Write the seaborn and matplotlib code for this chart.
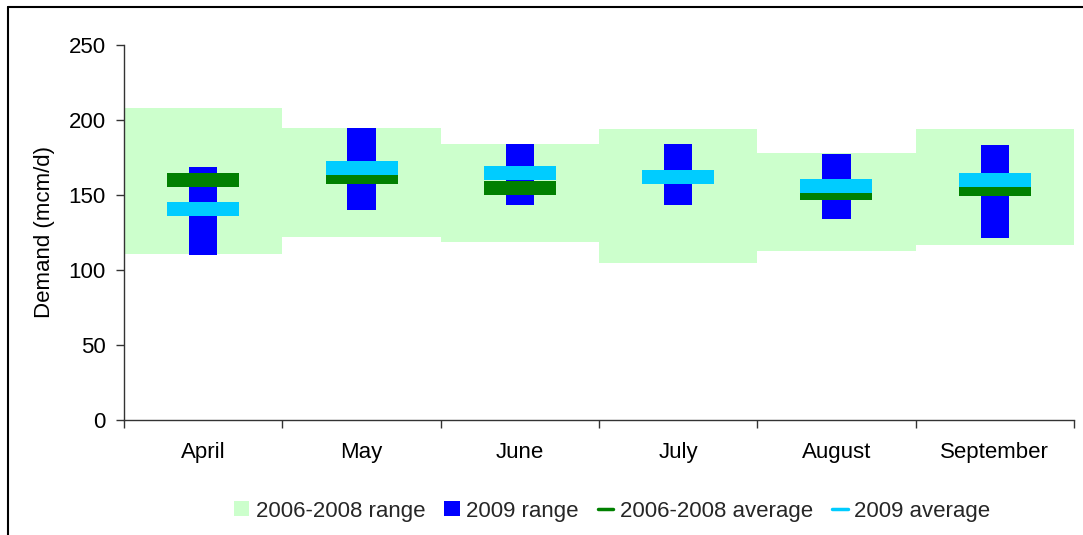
import numpy as np
import pandas as pd
import matplotlib
matplotlib.use("Agg")
import matplotlib.pyplot as plt
from matplotlib.patches import Patch
from matplotlib.lines import Line2D
from matplotlib.path import Path
import seaborn as sns

# Monthly gas demand (mcm/d)
months = ["April", "May", "June", "July", "August", "September"]
range_0608_low = [110.7, 122.2, 118.9, 104.9, 112.9, 116.7]
range_0608_high = [208.0, 194.7, 184.2, 194.0, 178.2, 194.0]
range_2009_low = [110.0, 140.0, 143.5, 143.5, 134.2, 121.6]
range_2009_high = [168.7, 194.7, 184.2, 184.2, 177.3, 183.3]
avg_0608 = [159.9, 162.2, 154.9, 162.3, 151.6, 153.8]
avg_2009 = [141.0, 168.0, 164.4, 162.3, 156.1, 159.9]

y_ticks = [0, 50, 100, 150, 200, 250]
legend_labels = ["2006-2008 range", "2009 range", "2006-2008 average", "2009 average"]

c_light = "#CCFFCC"
c_blue = "#0000FF"
c_green = "#008000"
c_cyan = "#00CCFF"
fs = 16

sns.set_theme(style="white")
plt.rcParams["font.family"] = ["Liberation Sans", "DejaVu Sans"]

df = pd.DataFrame({
    "month": months,
    "lo0608": range_0608_low,
    "span0608": np.array(range_0608_high) - np.array(range_0608_low),
    "lo2009": range_2009_low,
    "span2009": np.array(range_2009_high) - np.array(range_2009_low),
    "avg0608": avg_0608,
    "avg2009": avg_2009,
})
df["pos"] = np.arange(len(months))

fig = plt.figure(figsize=(10.83, 5.35), dpi=100)
ax = fig.add_axes([124 / 1083, 115 / 535, 950 / 1083, 375 / 535])

# Floating range bars
sns.barplot(data=df, x="month", y="span0608", bottom=df["lo0608"].values,
            order=months, color=c_light, saturation=1, width=1.0,
            errorbar=None, linewidth=0, ax=ax)
sns.barplot(data=df, x="month", y="span2009", bottom=df["lo2009"].values,
            order=months, color=c_blue, saturation=1, width=0.18,
            errorbar=None, linewidth=0, ax=ax)

# Average markers: flat rectangles
h = 14 / 73
rect = Path([(-1, -h), (1, -h), (1, h), (-1, h), (-1, -h)],
            [Path.MOVETO, Path.LINETO, Path.LINETO, Path.LINETO, Path.CLOSEPOLY])
msize = (73 * 0.72) ** 2
sns.scatterplot(data=df, x="pos", y="avg0608", marker=rect, s=msize,
                color=c_green, linewidth=0, ax=ax, zorder=3)
sns.scatterplot(data=df, x="pos", y="avg2009", marker=rect, s=msize,
                color=c_cyan, linewidth=0, ax=ax, zorder=4)

ax.set_xlim(-0.5, len(months) - 0.5)
ax.set_ylim(0, 250)
ax.set_yticks(y_ticks)
ax.set_yticklabels([str(v) for v in y_ticks])
ax.set_xticks(np.arange(len(months)))
ax.set_xticklabels(months)
ax.set_xticks(np.arange(len(months) + 1) - 0.5, minor=True)
ax.set_xlabel("")
ax.set_ylabel("Demand (mcm/d)", fontsize=fs, color="black")
ax.yaxis.set_label_coords(-0.073, 0.5)

for s in ["top", "right"]:
    ax.spines[s].set_visible(False)
for s in ["left", "bottom"]:
    ax.spines[s].set_color("#333333")
    ax.spines[s].set_linewidth(1.0)

ax.tick_params(axis="y", which="major", direction="out", length=6, width=1,
               color="#333333", labelsize=fs, labelcolor="black", pad=7, left=True)
ax.tick_params(axis="x", which="major", length=0, labelsize=fs,
               labelcolor="black", pad=16, bottom=True)
ax.tick_params(axis="x", which="minor", direction="out", length=6, width=1,
               color="#333333", bottom=True)

handles = [
    Patch(facecolor=c_light, edgecolor="none"),
    Patch(facecolor=c_blue, edgecolor="none"),
    Line2D([0], [0], color=c_green, lw=2.5),
    Line2D([0], [0], color=c_cyan, lw=2.5),
]
fig.legend(handles, legend_labels, loc="center", bbox_to_anchor=(612 / 1083, 24 / 535),
           ncol=4, frameon=False, fontsize=fs, handlelength=0.7, handleheight=0.65,
           handletextpad=0.3, columnspacing=0.85)

# Chart-area frame (top and left edges)
fig.add_artist(Line2D([8 / 1083, 1.0], [1 - 7 / 535, 1 - 7 / 535],
                      transform=fig.transFigure, color="black", lw=1.5))
fig.add_artist(Line2D([8 / 1083, 8 / 1083], [0.0, 1 - 7 / 535],
                      transform=fig.transFigure, color="black", lw=1.5))

fig.savefig("out.png", dpi=100)
